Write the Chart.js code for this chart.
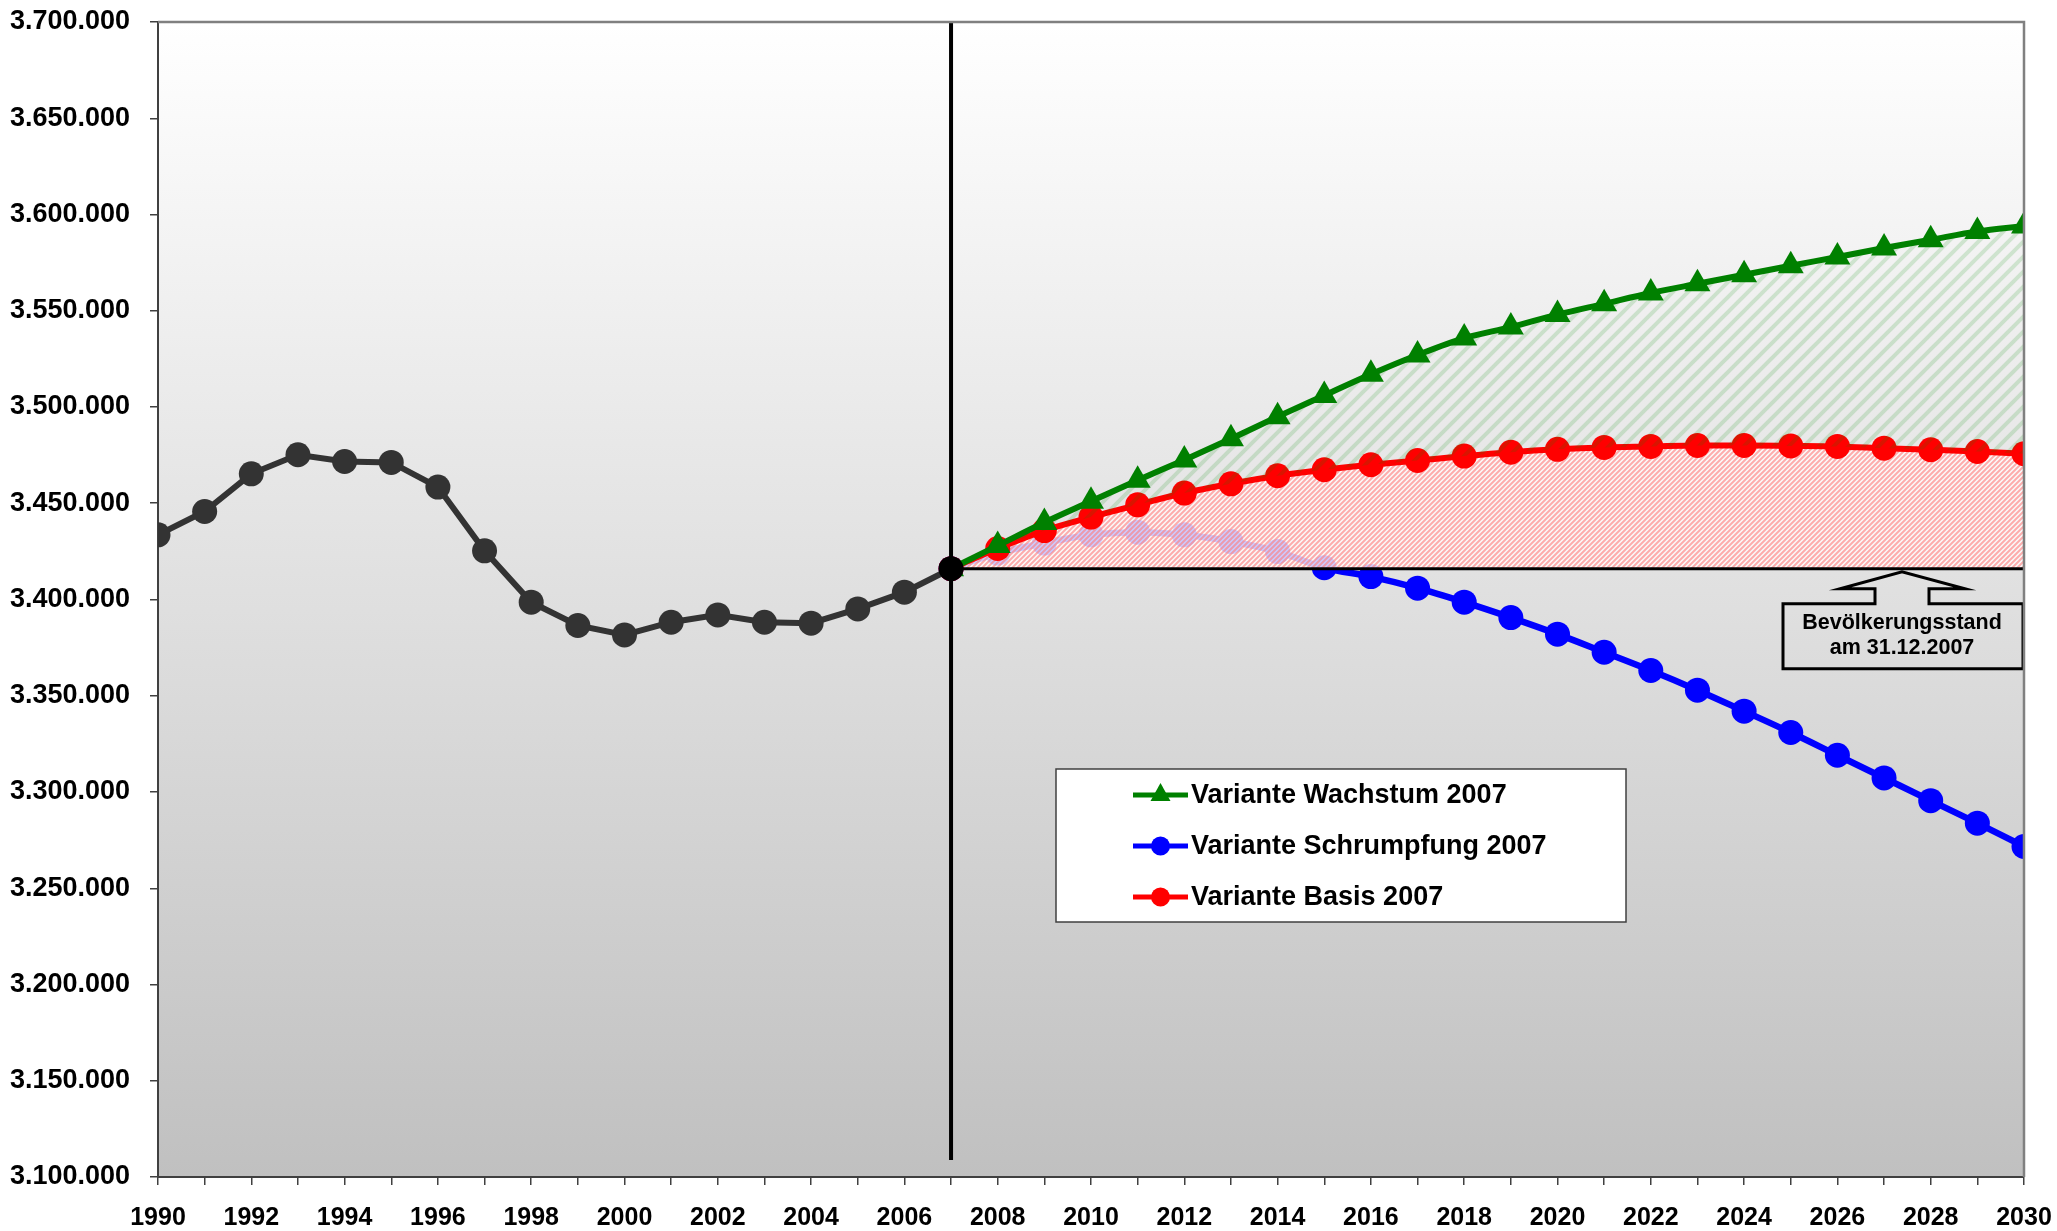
<!DOCTYPE html>
<html lang="de">
<head>
<meta charset="utf-8">
<title>Bevölkerungsentwicklung 1990 - 2030</title>
<script src="https://cdn.jsdelivr.net/npm/chart.js@4.4.0/dist/chart.umd.min.js"></script>
<style>
  html, body { margin: 0; padding: 0; background: #fff; }
</style>
</head>
<body>
<canvas id="chart" width="2057" height="1231"></canvas>
<script>
// Daten
const histYears = [1990, 1991, 1992, 1993, 1994, 1995, 1996, 1997, 1998, 1999,
                   2000, 2001, 2002, 2003, 2004, 2005, 2006, 2007];
const histValues = [3433600, 3445700, 3465300, 3475200, 3471700, 3471200, 3458400, 3425300, 3398600, 3386500,
                    3381600, 3388200, 3392000, 3388200, 3387700, 3395100, 3403800, 3416000];

const projYears = [2007, 2008, 2009, 2010, 2011, 2012, 2013, 2014, 2015, 2016, 2017, 2018,
                   2019, 2020, 2021, 2022, 2023, 2024, 2025, 2026, 2027, 2028, 2029, 2030];
const wachstum = [3416000, 3428000, 3440000, 3451000, 3462000, 3472500, 3483500, 3495000, 3506000, 3517000, 3527000, 3535800,
                  3541500, 3548000, 3553600, 3559200, 3564000, 3568700, 3573400, 3577900, 3582600, 3586900, 3591200, 3594000];
const schrumpfung = [3416000, 3424100, 3429300, 3433600, 3435000, 3433600, 3430100, 3424900, 3416500, 3411900, 3405900, 3398600,
                     3390600, 3382000, 3372600, 3363100, 3352900, 3342000, 3330900, 3319100, 3307300, 3295500, 3283800, 3271700];
const basis = [3416000, 3426500, 3435800, 3442800, 3449200, 3455300, 3460100, 3464300, 3467400, 3470000, 3472200, 3474500,
               3476500, 3478000, 3479000, 3479500, 3480000, 3480000, 3479800, 3479500, 3478600, 3477800, 3476900, 3475700];

const seriesLabels = ['Variante Wachstum 2007', 'Variante Schrumpfung 2007', 'Variante Basis 2007'];
const standYear = 2007;
const standValue = 3416000;
const standText = ['Bevölkerungsstand', 'am 31.12.2007'];

const xMin = 1990, xMax = 2030, xStep = 1;
const yMin = 3100000, yMax = 3700000, yStep = 50000;

const FONT = "'Liberation Sans', Arial, Helvetica, sans-serif";

function toPoints(years, values) {
  return years.map((x, i) => ({ x: x, y: values[i] }));
}

function formatDe(v) {
  return String(v).replace(/\B(?=(\d{3})+(?!\d))/g, '.');
}

const canvas = document.getElementById('chart');
const mainCtx = canvas.getContext('2d');

// Schraffur-Muster
function hatch(size, lineW, stripe, bg) {
  const c = document.createElement('canvas');
  c.width = c.height = size;
  const g = c.getContext('2d');
  if (bg) { g.fillStyle = bg; g.fillRect(0, 0, size, size); }
  g.strokeStyle = stripe;
  g.lineWidth = lineW;
  g.beginPath();
  g.moveTo(0, size); g.lineTo(size, 0);
  g.moveTo(-size / 2, size / 2); g.lineTo(size / 2, -size / 2);
  g.moveTo(size / 2, size * 1.5); g.lineTo(size * 1.5, size / 2);
  g.stroke();
  return mainCtx.createPattern(c, 'repeat');
}

const redHatch = hatch(5, 2, 'rgba(255,120,120,0.6)', 'rgba(255,255,255,0.8)');
const greenHatch = hatch(15, 4, 'rgba(0,140,0,0.15)', null);

// Hintergrund und Rahmen der Zeichenfläche
const plotFrame = {
  id: 'plotFrame',
  beforeDraw(chart) {
    const { ctx, chartArea: a } = chart;
    const g = ctx.createLinearGradient(0, a.top, 0, a.bottom);
    g.addColorStop(0, '#ffffff');
    g.addColorStop(1, '#c0c0c0');
    ctx.save();
    ctx.fillStyle = g;
    ctx.fillRect(a.left, a.top, a.right - a.left, a.bottom - a.top);
    ctx.restore();
  },
  afterDraw(chart) {
    const { ctx, chartArea: a } = chart;
    ctx.save();
    ctx.strokeStyle = '#808080';
    ctx.lineWidth = 2.5;
    ctx.beginPath();
    ctx.moveTo(a.left, a.top);
    ctx.lineTo(a.right, a.top);
    ctx.lineTo(a.right, a.bottom);
    ctx.stroke();
    ctx.restore();
  }
};

// senkrechte Linie, Hinweis-Kasten und Legende
const overlay = {
  id: 'overlay',
  afterDatasetsDraw(chart) {
    const { ctx, chartArea: a, scales } = chart;
    const x0 = scales.x.getPixelForValue(standYear);
    ctx.save();
    ctx.strokeStyle = '#000';
    ctx.lineWidth = 4;
    ctx.beginPath();
    ctx.moveTo(x0, a.top);
    ctx.lineTo(x0, a.bottom - 17);
    ctx.stroke();

    // Pfeil-Kasten
    const ly = scales.y.getPixelForValue(standValue);
    const cx = a.right - 122;
    const bl = a.right - 241, br = a.right - 1;
    const bt = ly + 35, bb = ly + 100;
    const sh = ly + 20;
    ctx.lineWidth = 3;
    ctx.lineJoin = 'miter';
    ctx.beginPath();
    ctx.moveTo(bl, bt);
    ctx.lineTo(cx - 27, bt);
    ctx.lineTo(cx - 27, sh);
    ctx.lineTo(cx - 62, sh);
    ctx.lineTo(cx, ly + 3);
    ctx.lineTo(cx + 63, sh);
    ctx.lineTo(cx + 27, sh);
    ctx.lineTo(cx + 27, bt);
    ctx.lineTo(br, bt);
    ctx.lineTo(br, bb);
    ctx.lineTo(bl, bb);
    ctx.closePath();
    ctx.stroke();
    ctx.fillStyle = '#000';
    ctx.font = 'bold 21.5px ' + FONT;
    ctx.textAlign = 'center';
    ctx.textBaseline = 'middle';
    ctx.fillText(standText[0], cx, bt + 19);
    ctx.fillText(standText[1], cx, bt + 44);

    // Legende
    const lx = a.left + 898, lt = a.top + 747, lw = 570, lh = 153;
    ctx.fillStyle = '#ffffff';
    ctx.fillRect(lx, lt, lw, lh);
    ctx.strokeStyle = '#404040';
    ctx.lineWidth = 1.5;
    ctx.strokeRect(lx, lt, lw, lh);
    const items = chart.data.datasets.filter(d => d.inLegend);
    items.forEach((d, i) => {
      const y = lt + 26 + i * 51;
      const sx = lx + 77, ex = lx + 132, mx = (sx + ex) / 2;
      ctx.strokeStyle = d.borderColor;
      ctx.lineWidth = 5;
      ctx.beginPath();
      ctx.moveTo(sx, y);
      ctx.lineTo(ex, y);
      ctx.stroke();
      ctx.fillStyle = d.pointBackgroundColor;
      ctx.beginPath();
      if (d.pointStyle === 'triangle') {
        ctx.moveTo(mx, y - 12);
        ctx.lineTo(mx + 10, y + 6);
        ctx.lineTo(mx - 10, y + 6);
        ctx.closePath();
      } else {
        ctx.arc(mx, y, 9.5, 0, Math.PI * 2);
      }
      ctx.fill();
      ctx.fillStyle = '#000';
      ctx.font = 'bold 27px ' + FONT;
      ctx.textAlign = 'left';
      ctx.textBaseline = 'middle';
      ctx.fillText(d.label, ex + 3, y + 1);
    });
    ctx.restore();
  }
};

new Chart(mainCtx, {
  type: 'line',
  data: {
    datasets: [
      {
        label: 'Bestand',
        data: toPoints(histYears, histValues),
        borderColor: '#333333',
        borderWidth: 6,
        pointRadius: 12.5,
        pointBorderWidth: 0,
        pointBackgroundColor: c => c.dataIndex === histValues.length - 1 ? '#000000' : '#333333',
        tension: 0,
        fill: false,
        order: 1
      },
      {
        label: seriesLabels[0],
        inLegend: true,
        data: toPoints(projYears, wachstum),
        borderColor: '#008000',
        backgroundColor: greenHatch,
        borderWidth: 6,
        pointStyle: 'triangle',
        pointRadius: 15,
        pointBorderWidth: 0,
        pointBackgroundColor: '#008000',
        cubicInterpolationMode: 'monotone',
        fill: 3,
        order: 2
      },
      {
        label: seriesLabels[1],
        inLegend: true,
        data: toPoints(projYears, schrumpfung),
        borderColor: '#0000ff',
        borderWidth: 6.5,
        pointRadius: 12.5,
        pointBorderWidth: 0,
        pointBackgroundColor: '#0000ff',
        cubicInterpolationMode: 'monotone',
        fill: false,
        order: 4
      },
      {
        label: seriesLabels[2],
        inLegend: true,
        data: toPoints(projYears, basis),
        borderColor: '#ff0000',
        backgroundColor: redHatch,
        borderWidth: 6,
        pointRadius: 12.5,
        pointBorderWidth: 0,
        pointBackgroundColor: '#ff0000',
        cubicInterpolationMode: 'monotone',
        fill: { value: standValue },
        order: 3
      },
      {
        label: 'Stand',
        data: toPoints([standYear, xMax], [standValue, standValue]),
        borderColor: '#000000',
        borderWidth: 3,
        pointRadius: 0,
        fill: false,
        order: 0
      }
    ]
  },
  options: {
    responsive: false,
    animation: false,
    events: [],
    layout: { padding: { top: 22, right: 33, left: 0, bottom: 0 } },
    plugins: {
      legend: { display: false },
      tooltip: { enabled: false }
    },
    scales: {
      x: {
        type: 'linear',
        min: xMin,
        max: xMax,
        afterFit: s => {
          s.height = 54;
          s.paddingLeft = 0;
          s.paddingRight = 0;
        },
        ticks: {
          stepSize: xStep,
          autoSkip: false,
          maxRotation: 0,
          padding: 18,
          color: '#000',
          font: { family: FONT, size: 25, weight: 'bold' },
          callback: v => (v % 2 === 0 ? String(v) : '')
        },
        grid: { drawOnChartArea: false, tickLength: 8, color: '#404040', lineWidth: 1.5 },
        border: { color: '#404040', width: 2 }
      },
      y: {
        min: yMin,
        max: yMax,
        afterFit: s => {
          s.width = 158;
          s.paddingTop = 0;
          s.paddingBottom = 0;
        },
        ticks: {
          stepSize: yStep,
          padding: 20,
          color: '#000',
          font: { family: FONT, size: 27, weight: 'bold' },
          callback: v => formatDe(v)
        },
        grid: { drawOnChartArea: false, tickLength: 8, color: '#404040', lineWidth: 1.5 },
        border: { color: '#404040', width: 2 }
      }
    }
  },
  plugins: [plotFrame, overlay]
});
</script>
</body>
</html>
